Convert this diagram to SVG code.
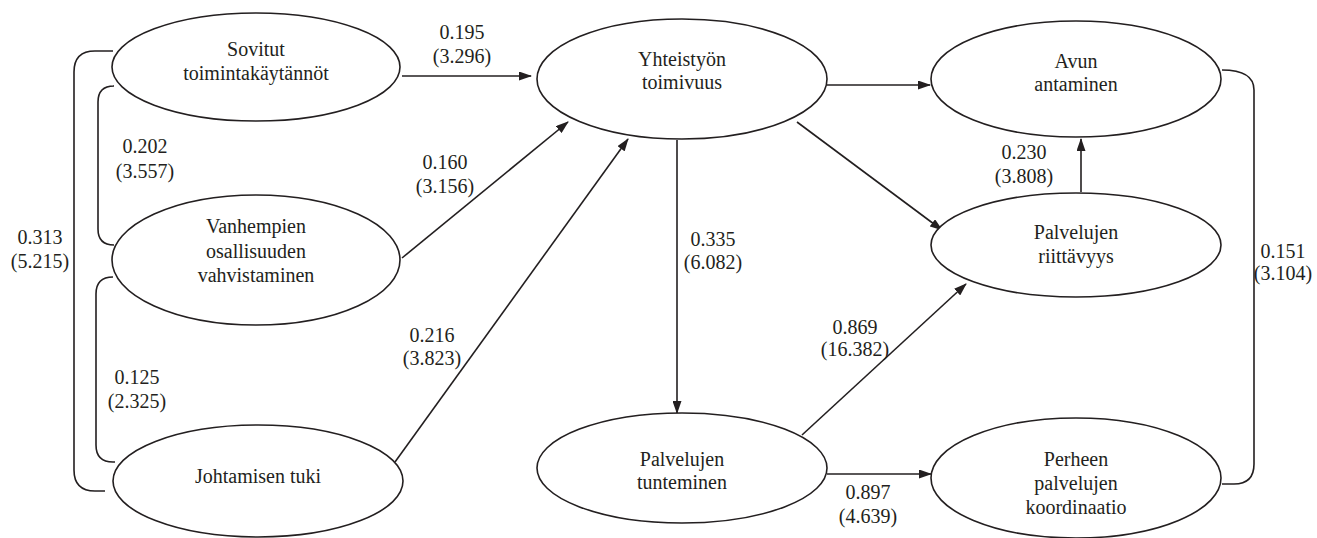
<svg xmlns="http://www.w3.org/2000/svg" width="1317" height="538" viewBox="0 0 1317 538">
<defs>
<marker id="ah" markerUnits="userSpaceOnUse" markerWidth="13" markerHeight="9" refX="12" refY="4.5" orient="auto">
<path d="M0,0 L13,4.5 L0,9 z" fill="#231f20"/>
</marker>
<style>
.n ellipse{fill:#fff;stroke:#231f20;stroke-width:1.6}
text{font-family:'Liberation Serif','Times New Roman',serif;font-size:20px;fill:#231f20;text-anchor:middle}
.c path,.c line{fill:none;stroke:#231f20;stroke-width:1.6}
.a{marker-end:url(#ah)}
</style>
</defs>
<rect width="1317" height="538" fill="#fff"/>
<g class="c" id="connectors">
<path d="M113,51 L95,51 Q74,51 74,72 L74,470 Q74,491 95,491 L105,491"/>
<path d="M113,86 L114,86 Q98,86 98,102 L98,229 Q98,245 114,245 L113,245"/>
<path d="M113,277 Q96,277 96,294 L96,445 Q96,462 113,462 L115,462"/>
<path d="M1222,70 Q1254,70 1254,90 L1254,464 Q1254,484 1234,484 L1222,484"/>
<line class="a" x1="402" y1="76" x2="531" y2="76"/>
<line class="a" x1="402" y1="258" x2="568" y2="122"/>
<line class="a" x1="395" y1="462" x2="628" y2="139"/>
<line class="a" x1="677" y1="140" x2="677" y2="413"/>
<line class="a" x1="827" y1="85" x2="930" y2="85"/>
<line class="a" x1="797" y1="122" x2="942" y2="230"/>
<line class="a" x1="1081" y1="192" x2="1081" y2="139"/>
<line class="a" x1="802" y1="435" x2="966" y2="284"/>
<line class="a" x1="827" y1="474" x2="931" y2="474"/>
</g>
<g id="labels" font-family="Liberation Serif, serif">
<text x="462" y="39">0.195</text><text x="462" y="63">(3.296)</text>
<text x="145" y="153">0.202</text><text x="145" y="178">(3.557)</text>
<text x="40" y="244">0.313</text><text x="40" y="268">(5.215)</text>
<text x="445" y="169">0.160</text><text x="445" y="193">(3.156)</text>
<text x="137" y="384">0.125</text><text x="137" y="408">(2.325)</text>
<text x="432" y="342">0.216</text><text x="432" y="365">(3.823)</text>
<text x="713" y="246">0.335</text><text x="713" y="269">(6.082)</text>
<text x="855" y="334">0.869</text><text x="855" y="356">(16.382)</text>
<text x="868" y="499">0.897</text><text x="868" y="523">(4.639)</text>
<text x="1024" y="159">0.230</text><text x="1024" y="183">(3.808)</text>
<text x="1283" y="258">0.151</text><text x="1283" y="280">(3.104)</text>
</g>
<g class="n" id="sovitut"><ellipse cx="256" cy="67" rx="144" ry="54"/><text x="256" y="56">Sovitut</text><text x="256" y="80">toimintakäytännöt</text></g>
<g class="n" id="vanhempien"><ellipse cx="256" cy="260" rx="144" ry="65"/><text x="256" y="233">Vanhempien</text><text x="256" y="258">osallisuuden</text><text x="256" y="282">vahvistaminen</text></g>
<g class="n" id="johtamisen"><ellipse cx="258" cy="481" rx="145" ry="56"/><text x="258" y="483">Johtamisen tuki</text></g>
<g class="n" id="yhteistyon"><ellipse cx="682" cy="79" rx="145" ry="60"/><text x="682" y="66">Yhteistyön</text><text x="682" y="89">toimivuus</text></g>
<g class="n" id="tunteminen"><ellipse cx="682" cy="468" rx="145" ry="55"/><text x="682" y="466">Palvelujen</text><text x="682" y="489">tunteminen</text></g>
<g class="n" id="avun"><ellipse cx="1076" cy="79" rx="145" ry="58"/><text x="1076" y="68">Avun</text><text x="1076" y="91">antaminen</text></g>
<g class="n" id="riittavyys"><ellipse cx="1076" cy="245" rx="145" ry="52"/><text x="1076" y="239">Palvelujen</text><text x="1076" y="263">riittävyys</text></g>
<g class="n" id="perheen"><ellipse cx="1076" cy="478" rx="145" ry="60"/><text x="1076" y="466">Perheen</text><text x="1076" y="490">palvelujen</text><text x="1076" y="514">koordinaatio</text></g>
</svg>
